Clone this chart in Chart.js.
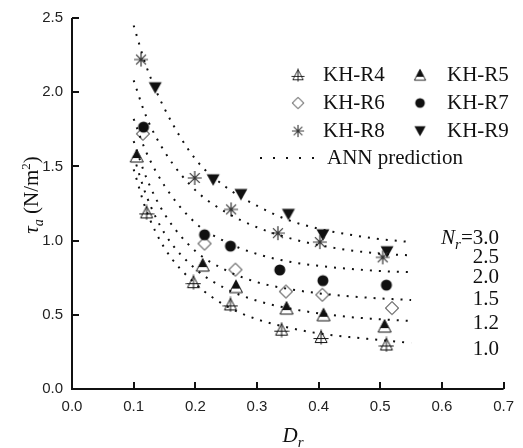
<!DOCTYPE html>
<html>
<head>
<meta charset="utf-8">
<script src="https://cdn.jsdelivr.net/npm/chart.js@4.4.1/dist/chart.umd.min.js"></script>
<style>
  html, body { margin: 0; padding: 0; background: #fff; }
</style>
</head>
<body>
<canvas id="chart" width="523" height="448"></canvas>
<script>
// measured points (D_r, tau_a)
const dR4 = [0.121, 0.197, 0.257, 0.340, 0.404, 0.510];
const tR4 = [1.19, 0.72, 0.57, 0.40, 0.35, 0.30];
const dR5 = [0.105, 0.212, 0.266, 0.348, 0.408, 0.507];
const tR5 = [1.57, 0.835, 0.69, 0.545, 0.50, 0.424];
const dR6 = [0.115, 0.215, 0.265, 0.347, 0.406, 0.519];
const tR6 = [1.72, 0.98, 0.804, 0.657, 0.635, 0.545];
const dR7 = [0.116, 0.215, 0.257, 0.337, 0.407, 0.510];
const tR7 = [1.765, 1.039, 0.963, 0.802, 0.73, 0.70];
const dR8 = [0.112, 0.199, 0.258, 0.334, 0.402, 0.504];
const tR8 = [2.22, 1.422, 1.21, 1.05, 0.99, 0.887];
const dR9 = [0.135, 0.229, 0.274, 0.351, 0.407, 0.511];
const tR9 = [2.03, 1.41, 1.311, 1.177, 1.039, 0.925];

// ANN prediction curves, one per N_r
const annD = [0.10, 0.12, 0.15, 0.20, 0.25, 0.30, 0.35, 0.40, 0.45, 0.50, 0.55];
const ann30 = [2.45, 2.18, 1.89, 1.55, 1.36, 1.235, 1.14, 1.08, 1.04, 1.01, 0.99];
const ann25 = [2.08, 1.84, 1.60, 1.34, 1.19, 1.09, 1.02, 0.97, 0.935, 0.912, 0.90];
const ann20 = [1.82, 1.60, 1.37, 1.12, 0.99, 0.91, 0.86, 0.83, 0.81, 0.795, 0.787];
const ann15 = [1.67, 1.43, 1.18, 0.93, 0.80, 0.72, 0.675, 0.645, 0.625, 0.61, 0.60];
const ann12 = [1.57, 1.31, 1.05, 0.81, 0.675, 0.595, 0.545, 0.51, 0.485, 0.47, 0.458];
const ann10 = [1.48, 1.21, 0.95, 0.71, 0.56, 0.47, 0.415, 0.375, 0.35, 0.33, 0.31];

const nrLabels = ["3.0", "2.5", "2.0", "1.5", "1.2", "1.0"];
const seriesNames = ["KH-R4", "KH-R5", "KH-R6", "KH-R7", "KH-R8", "KH-R9"];

const xTicks = [0, 0.1, 0.2, 0.3, 0.4, 0.5, 0.6, 0.7];
const yTicks = [0, 0.5, 1.0, 1.5, 2.0, 2.5];

// marker images
function makeMarker(draw) {
  const c = document.createElement("canvas");
  c.width = 16; c.height = 16;
  const g = c.getContext("2d");
  g.strokeStyle = "#111";
  g.fillStyle = "#111";
  g.lineWidth = 1;
  draw(g);
  return c;
}
const mR4 = makeMarker(g => {
  g.beginPath();
  g.moveTo(8, 2); g.lineTo(2, 13.5); g.lineTo(14, 13.5); g.closePath();
  g.moveTo(8, 0.5); g.lineTo(8, 15.5);
  g.moveTo(0.5, 9.5); g.lineTo(15.5, 9.5);
  g.stroke();
});
const mR5 = makeMarker(g => {
  g.save();
  g.beginPath(); g.rect(0, 0, 16, 10); g.clip();
  g.beginPath();
  g.moveTo(8, 1.5); g.lineTo(1.5, 14); g.lineTo(14.5, 14); g.closePath();
  g.fill();
  g.restore();
  g.beginPath();
  g.moveTo(8, 1.5); g.lineTo(1.5, 14); g.lineTo(14.5, 14); g.closePath();
  g.stroke();
});
const mR6 = makeMarker(g => {
  g.beginPath();
  g.moveTo(8, 1.5); g.lineTo(14.5, 8); g.lineTo(8, 14.5); g.lineTo(1.5, 8); g.closePath();
  g.stroke();
});
const mR7 = makeMarker(g => {
  g.beginPath(); g.arc(8, 8, 5.5, 0, Math.PI * 2); g.fill();
});
const mR8 = makeMarker(g => {
  g.strokeStyle = "#333";
  g.lineWidth = 1.2;
  g.beginPath();
  for (let k = 0; k < 4; k++) {
    const a = k * Math.PI / 4;
    g.moveTo(8 - 7 * Math.cos(a), 8 - 7 * Math.sin(a));
    g.lineTo(8 + 7 * Math.cos(a), 8 + 7 * Math.sin(a));
  }
  g.stroke();
});
const mR9 = makeMarker(g => {
  g.beginPath();
  g.moveTo(1.5, 2.5); g.lineTo(14.5, 2.5); g.lineTo(8, 14); g.closePath();
  g.fill();
});
const markers = [mR4, mR5, mR6, mR7, mR8, mR9];

function pts(xs, ys) {
  return xs.map((x, i) => ({ x: x, y: ys[i] }));
}

function annSet(ys) {
  return {
    type: "scatter",
    data: pts(annD, ys),
    showLine: true,
    borderColor: "#111",
    borderWidth: 2,
    borderDash: [2, 7],
    pointRadius: 0,
    cubicInterpolationMode: "monotone",
    fill: false,
  };
}
function pointSet(xs, ys, m) {
  return {
    type: "scatter",
    data: pts(xs, ys),
    pointStyle: m,
    pointRadius: 7,
    showLine: false,
  };
}

const serif = "'Liberation Serif', 'DejaVu Serif', serif";
const sans = "'Liberation Sans', Arial, sans-serif";

function drawRich(ctx, parts, x, y, align) {
  let w = 0;
  parts.forEach(p => { ctx.font = p.font; w += ctx.measureText(p.t).width; });
  let cx = align === "center" ? x - w / 2 : align === "right" ? x - w : x;
  ctx.textAlign = "left";
  parts.forEach(p => {
    ctx.font = p.font;
    ctx.fillText(p.t, cx, y + (p.dy || 0));
    cx += ctx.measureText(p.t).width;
  });
}

const decorPlugin = {
  id: "decor",
  afterDraw(chart) {
    const ctx = chart.ctx;
    const xs = chart.scales.x, ys = chart.scales.y;
    const a = chart.chartArea;
    ctx.save();
    // axes
    ctx.strokeStyle = "#111";
    ctx.lineWidth = 2;
    ctx.beginPath();
    ctx.moveTo(a.left, a.top);
    ctx.lineTo(a.left, a.bottom);
    ctx.lineTo(a.right, a.bottom);
    ctx.stroke();
    ctx.beginPath();
    xTicks.forEach(v => {
      const px = Math.round(xs.getPixelForValue(v));
      ctx.moveTo(px, a.bottom); ctx.lineTo(px, a.bottom - 7);
    });
    yTicks.forEach(v => {
      const py = Math.round(ys.getPixelForValue(v));
      ctx.moveTo(a.left, py); ctx.lineTo(a.left + 7, py);
    });
    ctx.stroke();

    ctx.fillStyle = "#111";
    // axis titles
    ctx.textBaseline = "alphabetic";
    drawRich(ctx, [
      { t: "D", font: "italic 21px " + serif },
      { t: "r", font: "italic 15px " + serif, dy: 5 },
    ], 293, 442, "center");

    ctx.save();
    ctx.translate(31, 195);
    ctx.rotate(-Math.PI / 2);
    drawRich(ctx, [
      { t: "\u03C4", font: "italic 21px " + serif },
      { t: "a", font: "italic 14px " + serif, dy: 5 },
      { t: " (N/m", font: "21px " + serif },
      { t: "2", font: "13px " + serif, dy: -8 },
      { t: ")", font: "21px " + serif },
    ], 0, 7, "center");
    ctx.restore();

    // legend
    const legX = [298, 420], txtX = [323, 447], legY = [75, 103, 131];
    ctx.textBaseline = "middle";
    ctx.font = "21px " + serif;
    seriesNames.forEach((name, i) => {
      const col = i % 2, row = Math.floor(i / 2);
      ctx.drawImage(markers[i], legX[col] - 7, legY[row] - 7, 14, 14);
      ctx.fillText(name, txtX[col], legY[row]);
    });
    ctx.setLineDash([2, 11]);
    ctx.lineWidth = 2;
    ctx.beginPath();
    ctx.moveTo(260, 158); ctx.lineTo(314, 158);
    ctx.stroke();
    ctx.setLineDash([]);
    ctx.fillText("ANN prediction", 327, 158);

    // N_r labels
    ctx.textBaseline = "alphabetic";
    const nrY = [243.5, 263, 282.5, 305, 328.5, 355];
    nrLabels.forEach((lab, i) => {
      if (i === 0) {
        drawRich(ctx, [
          { t: "N", font: "italic 21px " + serif },
          { t: "r", font: "italic 15px " + serif, dy: 5 },
          { t: "=" + lab, font: "21px " + serif },
        ], 499, nrY[i], "right");
      } else {
        ctx.font = "21px " + serif;
        ctx.textAlign = "right";
        ctx.fillText(lab, 499, nrY[i]);
      }
    });
    ctx.restore();
  }
};

new Chart(document.getElementById("chart"), {
  type: "scatter",
  data: {
    datasets: [
      annSet(ann30), annSet(ann25), annSet(ann20),
      annSet(ann15), annSet(ann12), annSet(ann10),
      pointSet(dR4, tR4, mR4),
      pointSet(dR5, tR5, mR5),
      pointSet(dR6, tR6, mR6),
      pointSet(dR7, tR7, mR7),
      pointSet(dR8, tR8, mR8),
      pointSet(dR9, tR9, mR9),
    ],
  },
  options: {
    responsive: false,
    devicePixelRatio: 1,
    animation: false,
    layout: { padding: { top: 16, right: 11, left: 0, bottom: 0 } },
    plugins: {
      legend: { display: false },
      tooltip: { enabled: false },
    },
    scales: {
      x: {
        type: "linear",
        min: 0,
        max: 0.7,
        grid: { display: false, drawTicks: false },
        border: { display: false },
        afterFit: s => { s.height = 59; },
        afterBuildTicks: s => { s.ticks = xTicks.map(v => ({ value: v })); },
        ticks: {
          autoSkip: false,
          padding: 9,
          color: "#222",
          font: { family: sans, size: 15 },
          callback: v => v.toFixed(1),
        },
      },
      y: {
        type: "linear",
        min: 0,
        max: 2.5,
        grid: { display: false, drawTicks: false },
        border: { display: false },
        afterFit: s => { s.width = 72; },
        afterBuildTicks: s => { s.ticks = yTicks.map(v => ({ value: v })); },
        ticks: {
          autoSkip: false,
          padding: 9,
          color: "#222",
          font: { family: sans, size: 15 },
          callback: v => v.toFixed(1),
        },
      },
    },
  },
  plugins: [decorPlugin],
});
</script>
</body>
</html>
